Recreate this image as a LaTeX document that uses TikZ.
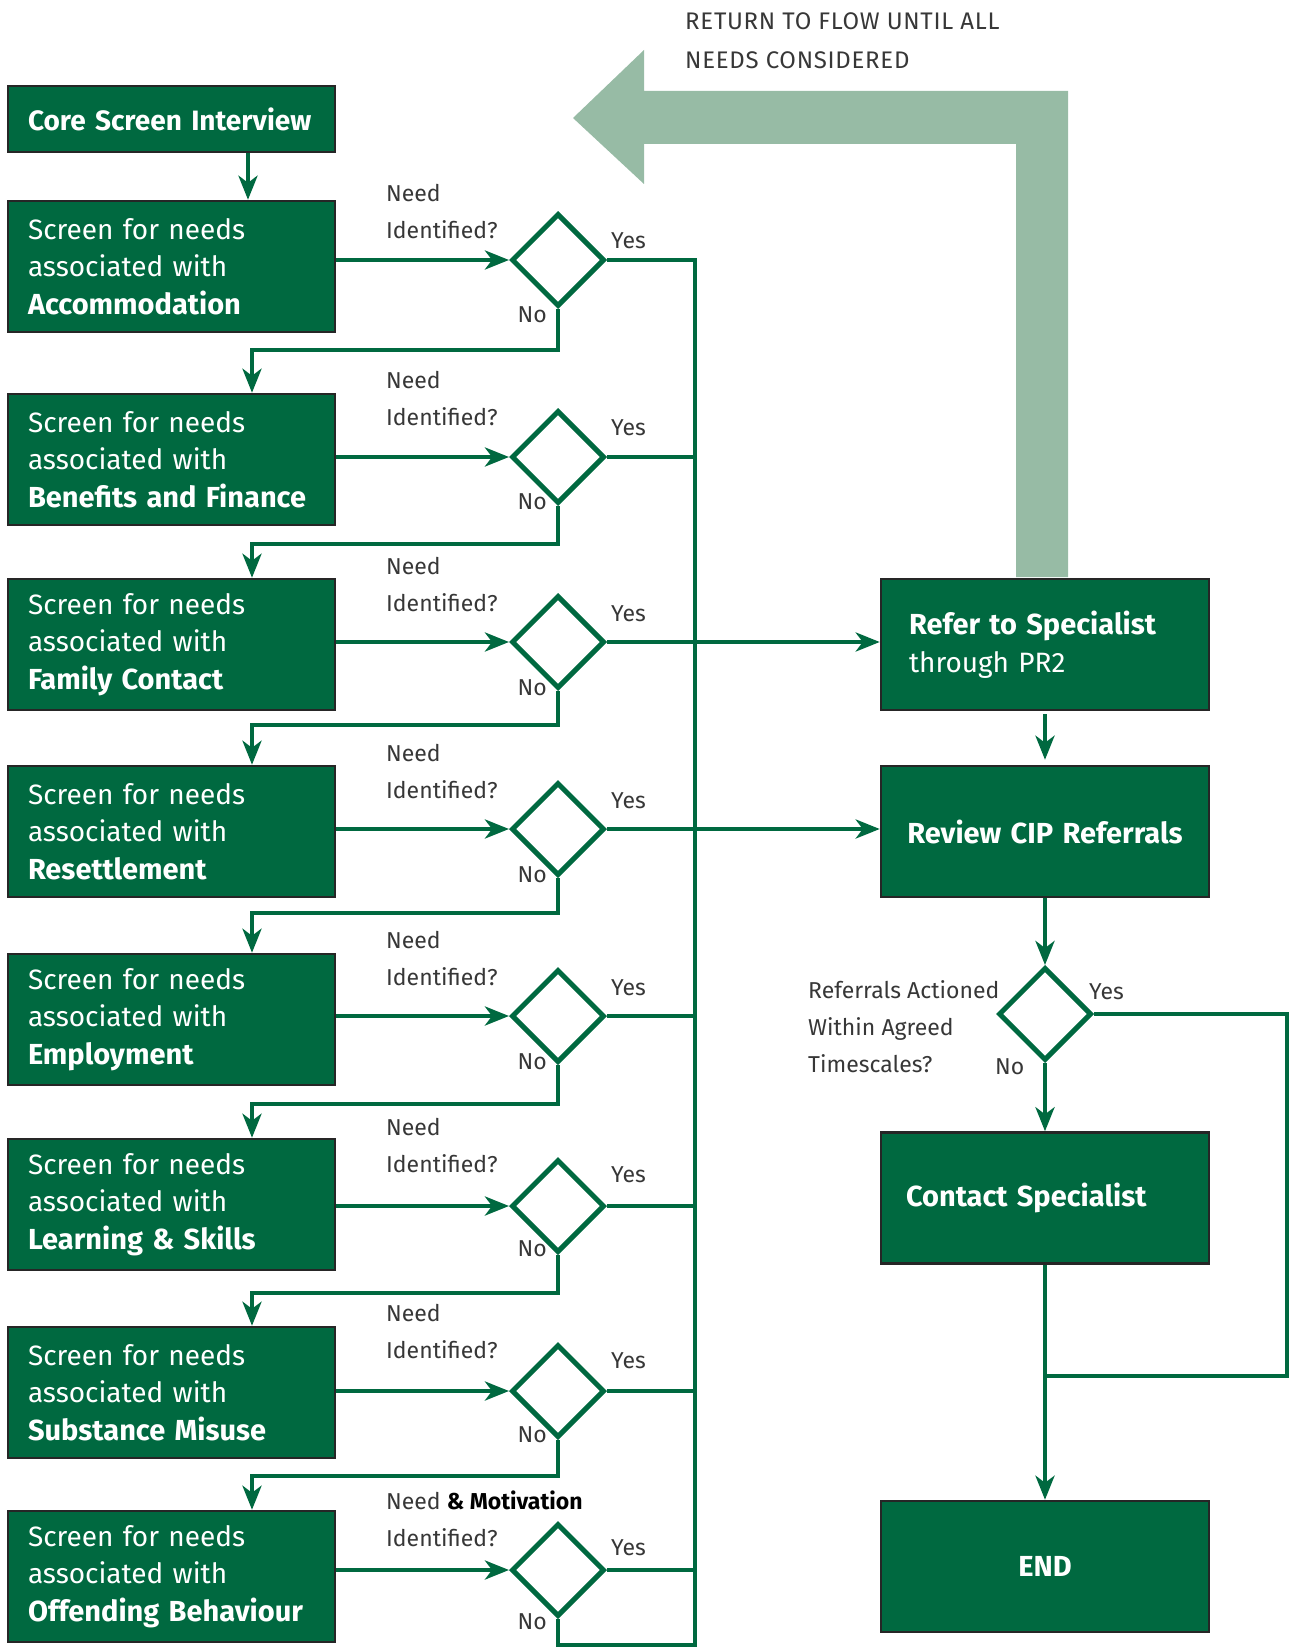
\documentclass[tikz,border=0pt]{standalone}
\usepackage{fontspec}
\setmainfont{Fira Sans}
\usetikzlibrary{shapes.geometric,arrows.meta}

\definecolor{cipgreen}{RGB}{0,105,64}
\definecolor{cippale}{RGB}{151,187,165}
\definecolor{cipgrey}{RGB}{55,55,55}

\newcommand{\boxbold}[1]{{\fontsize{29}{37}\selectfont\bfseries #1}}

\tikzset{
  screen/.style={draw=black!85, line width=2.5pt, fill=cipgreen, text=white,
    minimum width=327pt, minimum height=131pt, inner xsep=20pt, text width=287pt,
    align=left, font=\fontsize{28}{37.5}\selectfont},
  action/.style={screen, minimum width=328pt, inner xsep=28pt, text width=272pt},
  centred/.style={action, inner xsep=10pt, text width=308pt, align=center},
  decision/.style={diamond, aspect=1, draw=cipgreen, line width=5pt,
    minimum width=93pt, minimum height=93pt, inner sep=0pt},
  flow/.style={draw=cipgreen, line width=4.5pt},
  flowarr/.style={flow, -{Stealth[length=24pt,width=19pt,inset=7pt]}},
  lbl/.style={text=cipgrey, inner sep=0pt, align=left, font=\fontsize{23}{37}\selectfont}
}

\begin{document}
\begin{tikzpicture}[x=1pt,y=-1pt]
\useasboundingbox (0,0) rectangle (1290,1648);

% big return arrow
\fill[cippale] (573,118) -- (644,50) -- (644,91) -- (1068,91) -- (1068,577)
  -- (1016,577) -- (1016,144) -- (644,144) -- (644,184) -- cycle;
\node[lbl, anchor=west, font=\fontsize{24}{39}\selectfont\addfontfeatures{LetterSpace=3}] (ret) at (685,41)
  {RETURN TO FLOW UNTIL ALL\\NEEDS CONSIDERED};

\node[screen, minimum height=66pt] (core) at (171.5,119) {\textbf{Core Screen Interview}};

% the eight screens
\foreach \i/\ytop/\cy/\ny/\topic/\qtext in {
  1/201/260/193/Accommodation/Need,
  2/394/457/380/Benefits and Finance/Need,
  3/579/642/566/Family Contact/Need,
  4/766/829/753/Resettlement/Need,
  5/954/1016/940/Employment/Need,
  6/1139/1206/1127/Learning \& Skills/Need,
  7/1327/1391/1313/Substance Misuse/Need,
  8/1511/1570/1500/Offending Behaviour/{Need \textcolor{black}{\textbf{\& Motivation}}}}{
  \node[screen] (b\i) at (171.5,\ytop+65.5) {Screen for needs\\associated with\\\boxbold{\topic}};
  \node[decision] (d\i) at (558,\cy) {};
  \node[lbl, anchor=west] (q\i) at (386,\ny+18.5) {\qtext\\Identified?};
  \node[lbl, anchor=west] (y\i) at (611,\ny+48) {Yes};
  \node[lbl, anchor=east] (n\i) at (547,\ny+122) {No};
  \draw[flowarr] (b\i.east |- d\i) -- (d\i.west);
}

\draw[flowarr] ([xshift=76.5pt]core.south) -- ([xshift=76.5pt]b1.north);

% no -> next screen
\foreach \i/\j/\ly in {1/2/350, 2/3/544, 3/4/725, 4/5/913, 5/6/1104, 6/7/1293, 7/8/1476}{
  \coordinate (k\i) at (252,\ly);
  \draw[flowarr] (d\i.south) |- (k\i) -- (k\i |- b\j.north);
}

% yes trunk
\coordinate (ttop) at (695,260);
\coordinate (tbot) at (695,1645);
\draw[flow] (d1.east) -| (tbot) -| (d8.south);
\foreach \i in {2,5,6,7,8}
  \draw[flow] (d\i.east) -- (d\i.east -| ttop);

% right column
\node[action] (refer) at (1045,644.5) {\boxbold{Refer to Specialist}\\through PR2};
\node[centred] (review) at (1045,831.5) {\boxbold{Review CIP Referrals}};
\node[decision] (check) at (1045,1014) {};
\node[action, inner xsep=25pt, text width=278pt] (contact) at (1045,1198) {\boxbold{Contact Specialist}};
\node[centred] (end) at (1045,1566.5) {\boxbold{END}};

\node[lbl, anchor=west] (ask) at (808,1027) {Referrals Actioned\\Within Agreed\\Timescales?};
\node[lbl, anchor=west] (ycheck) at (1089,992) {Yes};
\node[lbl, anchor=west] (ncheck) at (995,1067) {No};

\draw[flowarr] (d3.east) -- (d3.east -| refer.west);
\draw[flowarr] (d4.east) -- (d4.east -| review.west);
\draw[flowarr] ([yshift=-3pt]refer.south) -- ([yshift=5pt]review.north);
\draw[flowarr] (review.south) -- (check.north);
\draw[flowarr] (check.south) -- (contact.north);
\draw[flowarr] (contact.south) -- (end.north);

\coordinate (loop) at (1287,1376);
\draw[flow] (check.east) -| (loop) -- (loop -| contact.south);

\end{tikzpicture}
\end{document}
